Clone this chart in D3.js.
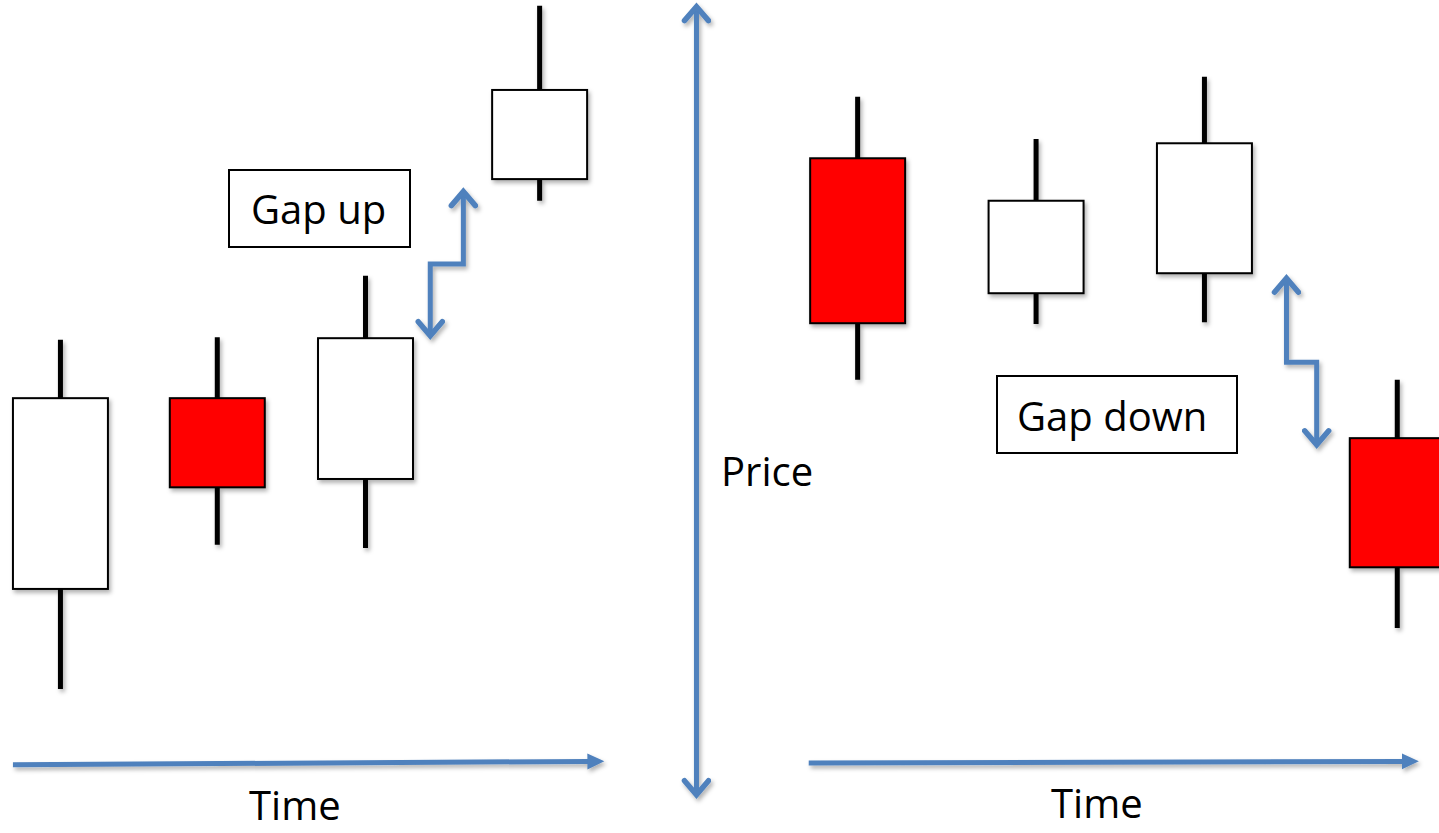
<!DOCTYPE html>
<html>
<head>
<meta charset="utf-8">
<script src="https://cdn.jsdelivr.net/npm/d3@7"></script>
<style>
  html, body { margin: 0; padding: 0; background: #fff; overflow: hidden; }
  text { font-family: "Open Sans", "Noto Sans", sans-serif; fill: #000; }
</style>
</head>
<body>
<script>
const width = 1439;
const height = 833;

// candles: time position (arbitrary units 0-100) and prices (arbitrary units 0-100)
const times  = [4.2, 15.1, 25.4, 37.5, 59.6, 72.0, 83.7, 97.1];
const opens  = [29.3, 52.2, 42.5, 78.5, 81.0, 64.8, 67.2, 47.4];
const closes = [52.2, 41.5, 59.4, 89.2, 61.2, 75.9, 82.8, 31.9];
const highs  = [59.2, 59.5, 66.9, 99.3, 88.4, 83.3, 90.8, 54.4];
const lows   = [17.3, 34.6, 34.2, 75.9, 54.4, 61.1, 61.3, 24.6];

// gap arrows (time, price)
const gapUp   = [[29.9, 59.7], [29.9, 68.3], [32.2, 68.3], [32.2, 77.0]];
const gapDown = [[89.4, 66.6], [89.4, 56.5], [91.5, 56.5], [91.5, 46.6]];

// axes arrows
const timeAxes = [[[0.9, 8.2], [42.0, 8.6]], [[56.2, 8.4], [98.6, 8.6]]];
const priceAxis = [[48.4, 4.6], [48.4, 99.2]];

const candles = times.map((t, i) => ({
  t: t, open: opens[i], close: closes[i], high: highs[i], low: lows[i]
}));

const x = d3.scaleLinear().domain([0, 100]).range([0, width]);
const y = d3.scaleLinear().domain([0, 100]).range([height, 0]);
const halfBody = 3.3;
const blue = "#4F81BD";
const headLen = 16;

const svg = d3.select("body")
  .append("svg")
  .attr("width", width)
  .attr("height", height);

const defs = svg.append("defs");

defs.append("filter")
  .attr("id", "shadow")
  .attr("x", "-20%").attr("y", "-20%")
  .attr("width", "140%").attr("height", "140%")
  .append("feDropShadow")
  .attr("dx", 2).attr("dy", 3)
  .attr("stdDeviation", 2)
  .attr("flood-color", "#000")
  .attr("flood-opacity", 0.3);

// open chevron head
defs.append("marker")
  .attr("id", "chevron")
  .attr("markerUnits", "userSpaceOnUse")
  .attr("viewBox", "0 0 30 30")
  .attr("markerWidth", 30).attr("markerHeight", 30)
  .attr("refX", 24).attr("refY", 15)
  .attr("orient", "auto-start-reverse")
  .append("path")
  .attr("d", "M10,3 L24,15 L10,27")
  .attr("fill", "none")
  .attr("stroke", blue)
  .attr("stroke-width", 5.5)
  .attr("stroke-linecap", "round");

// filled triangle head, tip sits headLen past the (shortened) line end
defs.append("marker")
  .attr("id", "tri")
  .attr("markerUnits", "userSpaceOnUse")
  .attr("viewBox", "0 0 20 20")
  .attr("markerWidth", 20).attr("markerHeight", 20)
  .attr("refX", 1).attr("refY", 10)
  .attr("orient", "auto")
  .append("path")
  .attr("d", "M0,2 L17,10 L0,18 Z")
  .attr("fill", blue);

const line = d3.line().x(d => x(d[0])).y(d => y(d[1]));

// screen points of an axis, last point pulled back so the head tip lands on it
function shortened(pts) {
  const p = pts.map(d => [x(d[0]), y(d[1])]);
  const a = p[p.length - 2], b = p[p.length - 1];
  const len = Math.hypot(b[0] - a[0], b[1] - a[1]);
  const k = (len - headLen) / len;
  p[p.length - 1] = [a[0] + (b[0] - a[0]) * k, a[1] + (b[1] - a[1]) * k];
  return d3.line()(p);
}

const g = svg.append("g").attr("filter", "url(#shadow)");

// wicks
g.selectAll("line.wick")
  .data(candles)
  .join("line")
  .attr("class", "wick")
  .attr("x1", d => x(d.t)).attr("x2", d => x(d.t))
  .attr("y1", d => y(d.high)).attr("y2", d => y(d.low))
  .attr("stroke", "#000")
  .attr("stroke-width", 5);

// bodies
g.selectAll("rect.body")
  .data(candles)
  .join("rect")
  .attr("class", "body")
  .attr("x", d => x(d.t - halfBody))
  .attr("width", x(2 * halfBody) - x(0))
  .attr("y", d => y(Math.max(d.open, d.close)))
  .attr("height", d => Math.abs(y(d.open) - y(d.close)))
  .attr("fill", d => d.close < d.open ? "#FF0000" : "#FFFFFF")
  .attr("stroke", "#000")
  .attr("stroke-width", 2);

// time axes
g.selectAll("path.time")
  .data(timeAxes)
  .join("path")
  .attr("class", "time")
  .attr("d", shortened)
  .attr("fill", "none")
  .attr("stroke", blue)
  .attr("stroke-width", 5)
  .attr("marker-end", "url(#tri)");

// price axis
g.append("path")
  .attr("d", line(priceAxis))
  .attr("fill", "none")
  .attr("stroke", blue)
  .attr("stroke-width", 5)
  .attr("marker-start", "url(#chevron)")
  .attr("marker-end", "url(#chevron)");

// gap arrows
g.selectAll("path.gap")
  .data([gapUp, gapDown])
  .join("path")
  .attr("class", "gap")
  .attr("d", line)
  .attr("fill", "none")
  .attr("stroke", blue)
  .attr("stroke-width", 5)
  .attr("stroke-linejoin", "miter")
  .attr("marker-start", "url(#chevron)")
  .attr("marker-end", "url(#chevron)");

// labelled boxes
const boxes = [
  { label: "Gap up",   x0: 229, y0: 170, x1: 410, y1: 247, tx: 251, ty: 224 },
  { label: "Gap down", x0: 997, y0: 376, x1: 1237, y1: 453, tx: 1017, ty: 431 }
];

svg.selectAll("rect.box")
  .data(boxes)
  .join("rect")
  .attr("class", "box")
  .attr("x", d => d.x0).attr("y", d => d.y0)
  .attr("width", d => d.x1 - d.x0).attr("height", d => d.y1 - d.y0)
  .attr("fill", "#fff")
  .attr("stroke", "#000")
  .attr("stroke-width", 2);

svg.selectAll("text.boxlabel")
  .data(boxes)
  .join("text")
  .attr("class", "boxlabel")
  .attr("x", d => d.tx).attr("y", d => d.ty)
  .attr("font-size", 40)
  .text(d => d.label);

const labels = [
  { label: "Price", x: 721, y: 486 },
  { label: "Time", x: 249, y: 820 },
  { label: "Time", x: 1051, y: 818 }
];

svg.selectAll("text.axislabel")
  .data(labels)
  .join("text")
  .attr("class", "axislabel")
  .attr("x", d => d.x).attr("y", d => d.y)
  .attr("font-size", 40)
  .text(d => d.label);
</script>
</body>
</html>
